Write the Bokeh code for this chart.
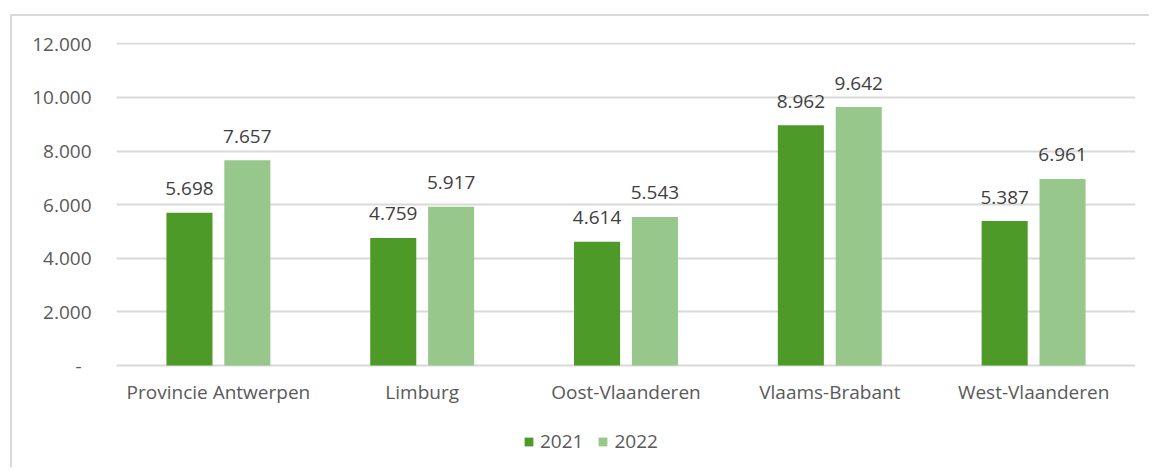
from bokeh.plotting import figure
from bokeh.models import FactorRange, Range1d, FixedTicker, Legend, LegendItem, ColumnDataSource
from bokeh.transform import dodge
from bokeh.core.properties import value
from bokeh.embed import file_html
from bokeh.resources import INLINE

categories = ["Provincie Antwerpen", "Limburg", "Oost-Vlaanderen", "Vlaams-Brabant", "West-Vlaanderen"]
series_names = ["2021", "2022"]
values_2021 = [5698, 4759, 4614, 8962, 5387]
values_2022 = [7657, 5917, 5543, 9642, 6961]
y_ticks = [0, 2000, 4000, 6000, 8000, 10000, 12000]

DARK = "#4E9A28"
LIGHT = "#98C78B"
TXT = "#595959"
FONT = "Open Sans"
FS = "19px"

def fmt(v):
    return f"{v:,}".replace(",", ".")

src = ColumnDataSource(dict(
    cat=categories,
    zero=[0] * len(categories),
    v21=values_2021,
    v22=values_2022,
    l21=[fmt(v) for v in values_2021],
    l22=[fmt(v) for v in values_2022],
))

p = figure(
    x_range=FactorRange(*categories),
    y_range=Range1d(-3879, 12048),
    width=1139, height=453,
    output_backend="svg", toolbar_location=None,
    x_axis_location=None,
    min_border_left=104, min_border_right=16, min_border_top=26, min_border_bottom=0,
)
p.styles = {"margin-left": "10px", "margin-top": "14px",
            "border-left": "2px solid #d9d9d9", "border-top": "2px solid #d9d9d9"}
p.outline_line_color = None
p.background_fill_color = "white"
p.border_fill_color = "white"

off = 0.142
w = 0.226
r1 = p.vbar(x=dodge("cat", -off, range=p.x_range), top="v21", width=w, source=src,
            fill_color=DARK, line_color=None)
r2 = p.vbar(x=dodge("cat", off, range=p.x_range), top="v22", width=w, source=src,
            fill_color=LIGHT, line_color=None)

for col, lab, o in (("v21", "l21", -off), ("v22", "l22", off)):
    p.text(x=dodge("cat", o, range=p.x_range), y=col, text=lab, source=src,
           text_align="center", text_baseline="alphabetic", y_offset=-24,
           text_font=value(FONT), text_font_size=FS, text_color="#404040")

# category labels under the zero line
p.text(x="cat", y="zero", text="cat", source=src,
       text_align="center", text_baseline="top", y_offset=13,
       text_font=value(FONT), text_font_size=FS, text_color=TXT)

p.xgrid.grid_line_color = None
p.ygrid.grid_line_color = "#d9d9d9"
p.ygrid.grid_line_width = 2
p.yaxis.ticker = FixedTicker(ticks=y_ticks)
p.ygrid.ticker = FixedTicker(ticks=y_ticks)
p.yaxis.major_label_overrides = {t: ("-\u00a0\u00a0" if t == 0 else fmt(t)) for t in y_ticks}

ax = p.yaxis[0]
ax.axis_line_color = None
ax.major_tick_line_color = None
ax.minor_tick_line_color = None
ax.major_tick_in = 0
ax.major_tick_out = 0
ax.minor_tick_in = 0
ax.minor_tick_out = 0
ax.major_label_text_font = FONT
ax.major_label_text_font_size = FS
ax.major_label_text_color = TXT
ax.major_label_standoff = 25

legend = Legend(items=[LegendItem(label=series_names[0], renderers=[r1]),
                       LegendItem(label=series_names[1], renderers=[r2])],
                orientation="horizontal", location=(407, 15),
                glyph_width=11, glyph_height=11, label_standoff=6, spacing=14,
                padding=0, margin=0, border_line_color=None, background_fill_alpha=0,
                label_text_font=FONT, label_text_font_size=FS, label_text_color=TXT)
p.add_layout(legend, "center")

open("out.html", "w").write(file_html(p, INLINE))
